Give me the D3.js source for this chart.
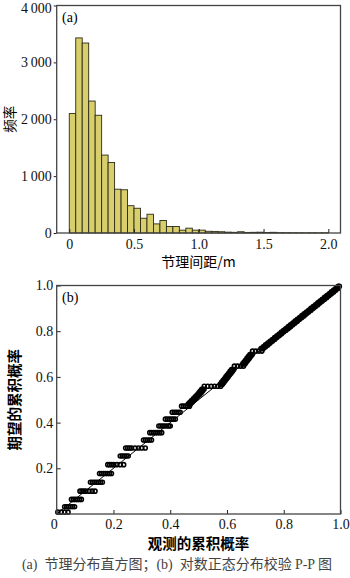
<!DOCTYPE html>
<html>
<head>
<meta charset="utf-8">
<script src="https://cdn.jsdelivr.net/npm/d3@7"></script>
<style>
  body { margin: 0; background: #fff; }
  svg { display: block; }
  .num { font-family: "Liberation Serif", "DejaVu Serif", serif; }
  .cjk { font-family: "Noto Sans CJK SC", "Noto Sans", sans-serif; }
</style>
</head>
<body>
<svg id="chart" width="350" height="578"></svg>
<script>
// ---- (a) joint spacing histogram: bin left edges (m) and counts ----
const binWidth = 0.05;
const binLeft = [0.00, 0.05, 0.10, 0.15, 0.20, 0.25, 0.30, 0.35, 0.40, 0.45,
                 0.50, 0.55, 0.60, 0.65, 0.70, 0.75, 0.80, 0.85, 0.90, 0.95,
                 1.00, 1.05, 1.10, 1.15, 1.20, 1.25, 1.30, 1.35, 1.40, 1.45,
                 1.50, 1.55, 1.60, 1.65, 1.70, 1.75, 1.80, 1.85, 1.90, 1.95];
const frequency = [2100, 3430, 3340, 2320, 2070, 1370, 1240, 770, 760, 480,
                   435, 260, 330, 160, 220, 115, 115, 50, 85, 50,
                   50, 30, 28, 22, 15, 12, 22, 10, 12, 14,
                   8, 12, 6, 5, 4, 4, 3, 4, 3, 4];
const histXTicks = [0, 0.5, 1.0, 1.5, 2.0];
const histYTicks = [0, 1000, 2000, 3000, 4000];

// ---- (b) lognormal P-P plot: expected cumulative probability of each tied group
//      and the observed cumulative probabilities of the points in that group ----
const ppExpected = [
  0.008, 0.032, 0.064, 0.100, 0.139, 0.177, 0.216, 0.254, 0.289, 0.324,
  0.356, 0.385, 0.415, 0.445, 0.472,
  0.482, 0.490, 0.498, 0.506, 0.514, 0.522, 0.530, 0.538, 0.546,
  0.559,
  0.568, 0.576, 0.584, 0.592, 0.600, 0.608, 0.616, 0.624, 0.632,
  0.647,
  0.658, 0.666, 0.674, 0.682, 0.690, 0.698,
  0.713,
  0.724, 0.732, 0.740, 0.748, 0.756, 0.764, 0.772, 0.780, 0.788, 0.796,
  0.804, 0.812, 0.820, 0.828, 0.836, 0.844, 0.852, 0.860, 0.868, 0.876,
  0.884, 0.892, 0.900, 0.908, 0.916, 0.924, 0.932, 0.940, 0.948, 0.956,
  0.964, 0.972, 0.980, 0.988, 0.996
];
const ppObserved = [
  [0.004, 0.016, 0.028, 0.040],
  [0.028, 0.035, 0.042, 0.049, 0.056, 0.063],
  [0.052, 0.059, 0.066, 0.073, 0.080, 0.087],
  [0.082, 0.089, 0.096, 0.103, 0.114, 0.125, 0.135],
  [0.119, 0.126, 0.133, 0.140, 0.147, 0.154, 0.161],
  [0.151, 0.158, 0.165, 0.172, 0.179, 0.186, 0.193],
  [0.180, 0.187, 0.194, 0.201, 0.212, 0.224, 0.236],
  [0.224, 0.231, 0.238, 0.245, 0.252],
  [0.243, 0.250, 0.257, 0.264, 0.276, 0.288, 0.300, 0.312],
  [0.306, 0.313, 0.320, 0.327, 0.334],
  [0.328, 0.335, 0.342, 0.349, 0.356, 0.363, 0.370],
  [0.360, 0.367, 0.374, 0.381, 0.388, 0.395, 0.400],
  [0.383, 0.390, 0.397, 0.404, 0.411, 0.418],
  [0.407, 0.414, 0.421, 0.428, 0.435],
  [0.440, 0.447, 0.454, 0.461, 0.468],
  [0.464, 0.468, 0.472],
  [0.470, 0.474, 0.478],
  [0.476, 0.480, 0.484],
  [0.483, 0.487, 0.491],
  [0.489, 0.493, 0.497],
  [0.495, 0.499, 0.503],
  [0.501, 0.505, 0.509],
  [0.506, 0.510, 0.514],
  [0.511, 0.515, 0.519],
  [0.520, 0.532, 0.544, 0.556, 0.568, 0.578],
  [0.576, 0.580, 0.584],
  [0.581, 0.585, 0.589],
  [0.586, 0.590, 0.594],
  [0.591, 0.595, 0.599],
  [0.596, 0.600, 0.604],
  [0.601, 0.605, 0.609],
  [0.606, 0.610, 0.614],
  [0.611, 0.615, 0.619],
  [0.616, 0.620, 0.624],
  [0.626, 0.637, 0.648, 0.658],
  [0.656, 0.660, 0.664],
  [0.661, 0.665, 0.669],
  [0.666, 0.670, 0.674],
  [0.671, 0.675, 0.679],
  [0.676, 0.680, 0.684],
  [0.681, 0.685, 0.689],
  [0.690, 0.701, 0.712, 0.723],
  [0.720, 0.724, 0.728],
  [0.728, 0.732, 0.736],
  [0.736, 0.740, 0.744],
  [0.744, 0.748, 0.752],
  [0.752, 0.756, 0.760],
  [0.760, 0.764, 0.768],
  [0.768, 0.772, 0.776],
  [0.776, 0.780, 0.784],
  [0.784, 0.788, 0.792],
  [0.792, 0.796, 0.800],
  [0.800, 0.804, 0.808],
  [0.808, 0.812, 0.816],
  [0.816, 0.820, 0.824],
  [0.824, 0.828, 0.832],
  [0.832, 0.836, 0.840],
  [0.840, 0.844, 0.848],
  [0.848, 0.852, 0.856],
  [0.856, 0.860, 0.864],
  [0.864, 0.868, 0.872],
  [0.872, 0.876, 0.880],
  [0.880, 0.884, 0.888],
  [0.888, 0.892, 0.896],
  [0.896, 0.900, 0.904],
  [0.904, 0.908, 0.912],
  [0.912, 0.916, 0.920],
  [0.920, 0.924, 0.928],
  [0.928, 0.932, 0.936],
  [0.936, 0.940, 0.944],
  [0.944, 0.948, 0.952],
  [0.952, 0.956, 0.960],
  [0.960, 0.964, 0.968],
  [0.968, 0.972, 0.976],
  [0.976, 0.980, 0.984],
  [0.984, 0.988, 0.992],
  [0.992, 0.996]
];
const ppXTicks = [0, 0.2, 0.4, 0.6, 0.8, 1.0];
const ppYTicks = [0.2, 0.4, 0.6, 0.8, 1.0];

const svg = d3.select("#chart");

function styleAxis(g) {
  g.attr("font-family", null).attr("font-size", null);
  g.select(".domain").remove();
  g.selectAll(".tick line").attr("stroke", "#222").attr("stroke-width", 1);
  g.selectAll(".tick text")
    .attr("class", "num")
    .attr("fill", "#111")
    .style("font-size", "14px");
}

// ================= (a) histogram =================
const A = { left: 56.7, right: 340.5, top: 5.5, bottom: 233 };
const xA = d3.scaleLinear().domain([-0.097, 2.094]).range([A.left, A.right]);
const yA = d3.scaleLinear().domain([0, 4000]).range([A.bottom, A.top]);

const histData = binLeft.map((x0, i) => ({ x0, x1: x0 + binWidth, n: frequency[i] }));

svg.append("g").selectAll("rect")
  .data(histData)
  .join("rect")
  .attr("x", d => xA(d.x0))
  .attr("width", d => xA(d.x1) - xA(d.x0))
  .attr("y", d => yA(d.n))
  .attr("height", d => yA(0) - yA(d.n))
  .attr("fill", "#d8cf6c")
  .attr("stroke", "#2b2a18")
  .attr("stroke-width", 0.9);

svg.append("g")
  .attr("transform", `translate(0,${A.bottom})`)
  .call(d3.axisBottom(xA).tickValues(histXTicks).tickSize(-4).tickPadding(6)
        .tickFormat(d => d === 0 ? "0" : d3.format(".1f")(d)))
  .call(styleAxis);

const yAxisA = svg.append("g")
  .attr("transform", `translate(${A.left},0)`)
  .call(d3.axisLeft(yA).tickValues(histYTicks).tickSize(3).tickPadding(2)
        .tickFormat(d => d3.format(",")(d).replace(",", "\u2009")))
  .call(styleAxis);
// keep the top label inside the canvas
yAxisA.selectAll(".tick text").filter(d => d === 4000).attr("dy", "0.5em");

svg.append("rect")
  .attr("x", A.left).attr("y", A.top)
  .attr("width", A.right - A.left).attr("height", A.bottom - A.top)
  .attr("fill", "none").attr("stroke", "#444").attr("stroke-width", 1.3);

svg.append("text")
  .attr("class", "num")
  .attr("x", 62).attr("y", 22)
  .style("font-size", "14px")
  .text("(a)");

svg.append("text")
  .attr("class", "cjk")
  .attr("x", (A.left + A.right) / 2).attr("y", 267)
  .attr("text-anchor", "middle")
  .style("font-size", "14px")
  .text("节理间距/m");

svg.append("text")
  .attr("class", "cjk")
  .attr("transform", `translate(15,${(A.top + A.bottom) / 2}) rotate(-90)`)
  .attr("text-anchor", "middle")
  .style("font-size", "13.5px")
  .text("频率");

// ================= (b) P-P plot =================
const B = { left: 56.7, right: 340.5, top: 285.5, bottom: 514 };
const xB = d3.scaleLinear().domain([0, 1]).range([B.left, B.right]);
const yB = d3.scaleLinear().domain([0, 1]).range([B.bottom, B.top]);

const ppPoints = ppExpected.flatMap((e, i) => ppObserved[i].map(o => ({ o, e })));

svg.append("line")
  .attr("x1", xB(0)).attr("y1", yB(0))
  .attr("x2", xB(1)).attr("y2", yB(1))
  .attr("stroke", "#000").attr("stroke-width", 1);

svg.append("g").selectAll("circle")
  .data(ppPoints)
  .join("circle")
  .attr("cx", d => xB(d.o))
  .attr("cy", d => yB(d.e))
  .attr("r", 2.0)
  .attr("fill", "none")
  .attr("stroke", "#000")
  .attr("stroke-width", 1.6);

const xAxisB = svg.append("g")
  .attr("transform", `translate(0,${B.bottom})`)
  .call(d3.axisBottom(xB).tickValues(ppXTicks).tickSize(-4).tickPadding(5)
        .tickFormat(d => d === 0 ? "0" : d3.format(".1f")(d)))
  .call(styleAxis);
xAxisB.selectAll(".tick text").filter(d => d === 0).attr("dx", -3);

svg.append("g")
  .attr("transform", `translate(${B.left},0)`)
  .call(d3.axisLeft(yB).tickValues(ppYTicks).tickSize(-4).tickPadding(3.5)
        .tickFormat(d3.format(".1f")))
  .call(styleAxis);

svg.append("rect")
  .attr("x", B.left).attr("y", B.top)
  .attr("width", B.right - B.left).attr("height", B.bottom - B.top)
  .attr("fill", "none").attr("stroke", "#444").attr("stroke-width", 1.3);

svg.append("text")
  .attr("class", "num")
  .attr("x", 62).attr("y", 302)
  .style("font-size", "14px")
  .text("(b)");

svg.append("text")
  .attr("class", "cjk")
  .attr("x", (B.left + B.right) / 2).attr("y", 549)
  .attr("text-anchor", "middle")
  .style("font-size", "14.5px").style("font-weight", "bold")
  .text("观测的累积概率");

svg.append("text")
  .attr("class", "cjk")
  .attr("transform", `translate(20,${(B.top + B.bottom) / 2}) rotate(-90)`)
  .attr("text-anchor", "middle")
  .style("font-size", "14.5px").style("font-weight", "bold")
  .text("期望的累积概率");

// ================= caption =================
const caption = svg.append("text")
  .attr("x", 177).attr("y", 569)
  .attr("text-anchor", "middle")
  .attr("fill", "#444")
  .style("font-size", "14px");
caption.append("tspan").attr("class", "num").text("(a)\u00a0 ");
caption.append("tspan").attr("class", "cjk").text("节理分布直方图；");
caption.append("tspan").attr("class", "num").text("(b)\u00a0 ");
caption.append("tspan").attr("class", "cjk").text("对数正态分布校验 ");
caption.append("tspan").attr("class", "num").text("P-P ");
caption.append("tspan").attr("class", "cjk").text("图");
</script>
</body>
</html>
